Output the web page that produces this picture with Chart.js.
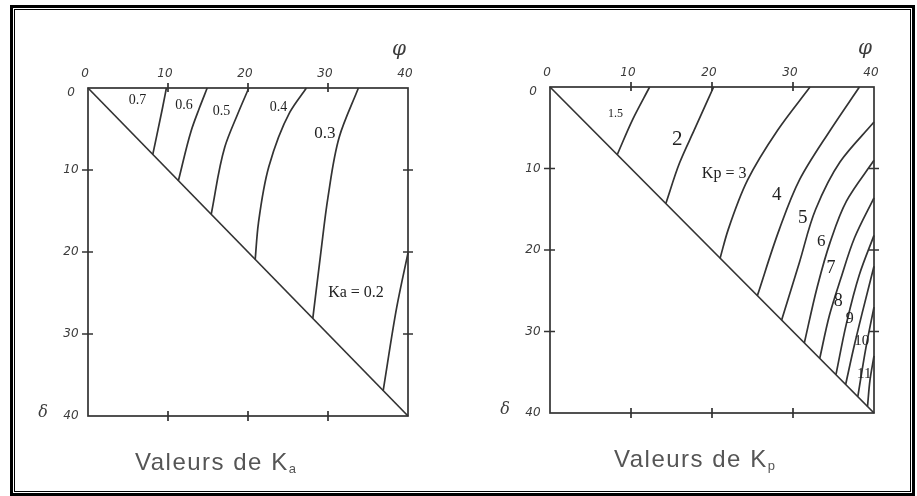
<!DOCTYPE html>
<html>
<head>
<meta charset="utf-8">
<script src="https://cdn.jsdelivr.net/npm/chart.js@4.4.1/dist/chart.umd.min.js"></script>
<style>
  html, body { margin: 0; padding: 0; background: #fff; }
  #page { position: relative; width: 917px; height: 496px; overflow: hidden; background: #fff; }
  .frame { position: absolute; box-sizing: border-box; left: 10px; top: 5px; width: 905px; height: 491px; border: 3px solid #000; }
  .frame-in { position: absolute; box-sizing: border-box; left: 14px; top: 9px; width: 897px; height: 483px; border: 1px solid #000; }
  .panel { position: absolute; top: 0; }
</style>
</head>
<body>
<div id="page">
  <div class="frame"></div>
  <div class="frame-in"></div>
  <canvas id="kaChart" class="panel" width="458" height="496" style="left:0"></canvas>
  <canvas id="kpChart" class="panel" width="459" height="496" style="left:458px"></canvas>
</div>
<script>
// phi (top axis) and delta (left axis, downward), degrees
const scaleTicks = [0, 10, 20, 30, 40];
const diagonal = [[0, 0], [40, 40]];

// Ka curves: [phi, delta] points, from the top edge down to the diagonal
const ka07 = [[9.8, 0], [9.3, 2.5], [8.1, 8.1]];
const ka06 = [[14.9, 0], [13.9, 2.5], [12.9, 5.2], [11.3, 11.3]];
const ka05 = [[20.1, 0], [18.7, 3.2], [17.1, 7.2], [15.4, 15.4]];
const ka04 = [[27.3, 0], [25.2, 3.0], [22.6, 9.6], [21.3, 16.5], [20.9, 20.9]];
const ka03 = [[33.8, 0], [31.4, 6.0], [30.0, 13.3], [29.1, 20.1], [28.1, 28.1]];
const ka02 = [[40, 20.1], [38.6, 26.7], [36.9, 36.9]];
const kaCurves = [ka07, ka06, ka05, ka04, ka03, ka02];
const kaLabels = ['0.7', '0.6', '0.5', '0.4', '0.3', 'Ka = 0.2'];
const kaLabelAt = [[6.2, 1.5], [12.0, 2.1], [16.7, 2.9], [23.8, 2.4], [29.6, 5.6], [33.5, 25.0]];

// Kp curves
const kp15 = [[12.3, 0], [10.2, 4.0], [8.3, 8.3]];
const kp2 = [[20.2, 0], [17.8, 5.3], [16.0, 9.3], [14.3, 14.3]];
const kp3 = [[32.1, 0], [28.1, 5.3], [24.4, 11.4], [22.0, 17.5], [21.0, 21.0]];
const kp4 = [[38.2, 0], [34.6, 5.3], [30.8, 11.4], [28.3, 17.5], [25.6, 25.6]];
const kp5 = [[40, 4.3], [35.8, 9.2], [32.8, 15.0], [30.8, 21.5], [28.6, 28.6]];
const kp6 = [[40, 9.0], [36.6, 14.0], [34.6, 19.0], [33.0, 24.5], [31.4, 31.4]];
const kp7 = [[40, 13.6], [37.6, 18.5], [35.9, 23.5], [34.5, 28.0], [33.3, 33.3]];
const kp8 = [[40, 18.2], [38.2, 23.0], [36.6, 29.0], [35.3, 35.3]];
const kp9 = [[40, 22.0], [38.6, 27.5], [37.5, 32.0], [36.5, 36.5]];
const kp10 = [[40, 27.0], [39.0, 32.0], [38.0, 38.0]];
const kp11 = [[40, 33.0], [39.5, 36.0], [39.2, 39.2]];
const kpCurves = [kp15, kp2, kp3, kp4, kp5, kp6, kp7, kp8, kp9, kp10, kp11];
const kpLabels = ['1.5', '2', 'Kp = 3', '4', '5', '6', '7', '8', '9', '10', '11'];
const kpLabelAt = [[8.1, 3.3], [15.7, 6.4], [21.5, 10.6], [28.0, 13.3], [31.2, 16.1], [33.5, 18.9],
                   [34.7, 22.3], [35.6, 26.3], [37.0, 28.5], [38.5, 31.2], [38.8, 35.2]];

const INK = '#333';
const HAND = 'italic 12px "DejaVu Sans"';

function toXY(pts) {
  return pts.map(([x, y]) => ({ x, y }));
}

const abaque = {
  id: 'abaque',
  afterDatasetsDraw(chart, args, o) {
    const { ctx, chartArea: a, scales: { x, y } } = chart;
    ctx.save();
    ctx.strokeStyle = INK;
    ctx.lineWidth = 1.7;
    ctx.strokeRect(a.left, a.top, a.right - a.left, a.bottom - a.top);

    // small cross ticks on all four sides
    ctx.beginPath();
    scaleTicks.slice(1, -1).forEach(v => {
      const px = x.getPixelForValue(v), py = y.getPixelForValue(v);
      ctx.moveTo(px, a.top - 5); ctx.lineTo(px, a.top + 4);
      ctx.moveTo(px, a.bottom - 5); ctx.lineTo(px, a.bottom + 5);
      ctx.moveTo(a.left - 6, py); ctx.lineTo(a.left + 5, py);
      ctx.moveTo(a.right - 5, py); ctx.lineTo(a.right + 5, py);
    });
    ctx.stroke();

    // hand-lettered tick labels
    ctx.fillStyle = '#3c3c3c';
    ctx.font = HAND;
    ctx.textAlign = 'center';
    ctx.textBaseline = 'middle';
    scaleTicks.forEach(v => {
      ctx.fillText(String(v), x.getPixelForValue(v) - 3, a.top - 14);
      const py = y.getPixelForValue(v) + (v === 0 ? 5 : 0);
      ctx.fillText(String(v), a.left - 17, py);
    });
    ctx.font = 'italic 20px "DejaVu Serif"';
    ctx.fillText('φ', a.right - 9, a.top - 38);
    ctx.font = 'italic 16px "DejaVu Serif"';
    ctx.fillText('δ', a.left - 45, a.bottom - 3);

    // curve values
    ctx.fillStyle = '#222';
    o.labels.forEach((t, i) => {
      const [lx, ly] = o.labelAt[i];
      ctx.font = o.sizes[i] + 'px "Liberation Serif"';
      ctx.fillText(t, x.getPixelForValue(lx), y.getPixelForValue(ly));
    });

    // caption
    ctx.fillStyle = '#555';
    ctx.textAlign = 'left';
    ctx.textBaseline = 'alphabetic';
    ctx.font = '24px "Liberation Sans"';
    if ('letterSpacing' in ctx) ctx.letterSpacing = '1.5px';
    const base = a.bottom + 54;
    const cx = a.left + o.captionOffset;
    ctx.fillText('Valeurs de K', cx, base);
    const w = ctx.measureText('Valeurs de K').width;
    ctx.font = '13px "Liberation Sans"';
    ctx.fillText(o.sub, cx + w, base + 3);
    ctx.restore();
  }
};

function makeChart(id, curves, pad, plugOpts) {
  const datasets = [toXY(diagonal)].concat(curves.map(toXY)).map(d => ({
    data: d,
    borderColor: INK,
    borderWidth: 1.7,
    pointRadius: 0,
    fill: false,
    cubicInterpolationMode: 'monotone',
    clip: 4
  }));
  return new Chart(document.getElementById(id), {
    type: 'line',
    data: { datasets },
    options: {
      indexAxis: 'y',
      responsive: false,
      animation: false,
      layout: { padding: pad },
      scales: {
        x: { type: 'linear', min: 0, max: 40, display: false },
        y: { type: 'linear', min: 0, max: 40, reverse: true, display: false }
      },
      plugins: {
        legend: { display: false },
        tooltip: { enabled: false },
        abaque: plugOpts
      }
    },
    plugins: [abaque]
  });
}

makeChart('kaChart', kaCurves, { left: 88, top: 88, right: 50, bottom: 80 }, {
  labels: kaLabels, labelAt: kaLabelAt,
  sizes: [14, 14, 14, 14, 17, 16],
  captionOffset: 47, sub: 'a'
});

makeChart('kpChart', kpCurves, { left: 92, top: 87, right: 43, bottom: 83 }, {
  labels: kpLabels, labelAt: kpLabelAt,
  sizes: [12, 21, 16, 19, 19, 17, 18, 18, 16, 15, 15],
  captionOffset: 64, sub: 'p'
});
</script>
</body>
</html>
